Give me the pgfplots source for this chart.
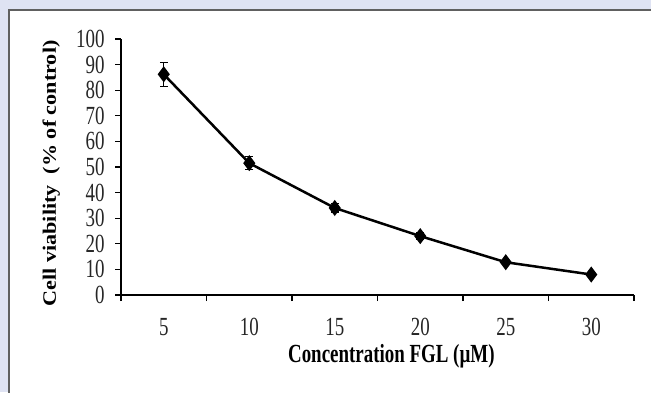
\documentclass[border=0pt]{standalone}
\usepackage{pgfplots}
\pgfplotsset{compat=1.18}
\usepackage{fontspec}
\setmainfont{Liberation Serif}
\definecolor{bgl}{HTML}{DFE3F3}
\definecolor{frm}{HTML}{606060}
\newcommand{\tall}[1]{\scalebox{1}[1.38]{#1}}
\begin{document}
\begin{tikzpicture}[x=1bp,y=1bp]
\useasboundingbox (0,0) rectangle (651,392);
\fill[bgl] (0,0) rectangle (651,392);
\fill[white] (9,-2) rectangle (653,382);
\draw[frm, line width=1.5bp] (9,-2) -- (9,382) -- (653,382);
\begin{axis}[
  at={(121bp,97bp)}, anchor=origin,
  scale only axis, width=513bp, height=256bp,
  xmin=0.5, xmax=6.5, ymin=0, ymax=100,
  axis x line*=bottom, axis y line*=left,
  axis line style={line width=1.6bp, black, -},
  xtick={1,...,6}, xticklabels={\tall{5},\tall{10},\tall{15},\tall{20},\tall{25},\tall{30}},
  major x tick style={draw=none},
  minor xtick={0.5,1.5,...,6.5},
  minor x tick style={line width=1.3bp, black},
  minor tick length=6bp,
  ytick={0,10,...,100},
  yticklabel={\tall{\pgfmathprintnumber{\tick}}},
  y tick style={line width=1.3bp, black},
  major tick length=6bp,
  tick align=outside,
  tick label style={font=\fontsize{19}{20}\selectfont, text=black!85},
  /pgf/number format/assume math mode=true,
  xticklabel style={yshift=-14bp},
  yticklabel style={xshift=-7bp},
  xlabel={\tall{\textbf{Concentration FGL (µM)}}},
  ylabel={\scalebox{1.17}[1]{\textbf{Cell viability\ \ (\% of control)}}},
  label style={font=\fontsize{19}{20}\selectfont},
  xlabel style={at={(axis description cs:0.527,-0.238)}, anchor=center},
  ylabel style={at={(axis description cs:-0.136,0.475)}, anchor=center},
  clip=false,
]
\addplot[black, line width=2.5bp, mark=diamond*, mark size=6bp,
  mark options={solid, fill=black},
  error bars/.cd, y dir=both, y explicit,
  error bar style={line width=1.2bp, black},
  error mark options={rotate=90, mark size=4bp, line width=1.2bp}]
  coordinates {
  (1,86.2) +- (0,4.6)
  (2,51.5) +- (0,2.6)
  (3,34.0) +- (0,1.6)
  (4,23.0) +- (0,1.2)
  (5,12.8) +- (0,0.6)
  (6,8.0) +- (0,0.5)
};
\end{axis}
\end{tikzpicture}
\end{document}
